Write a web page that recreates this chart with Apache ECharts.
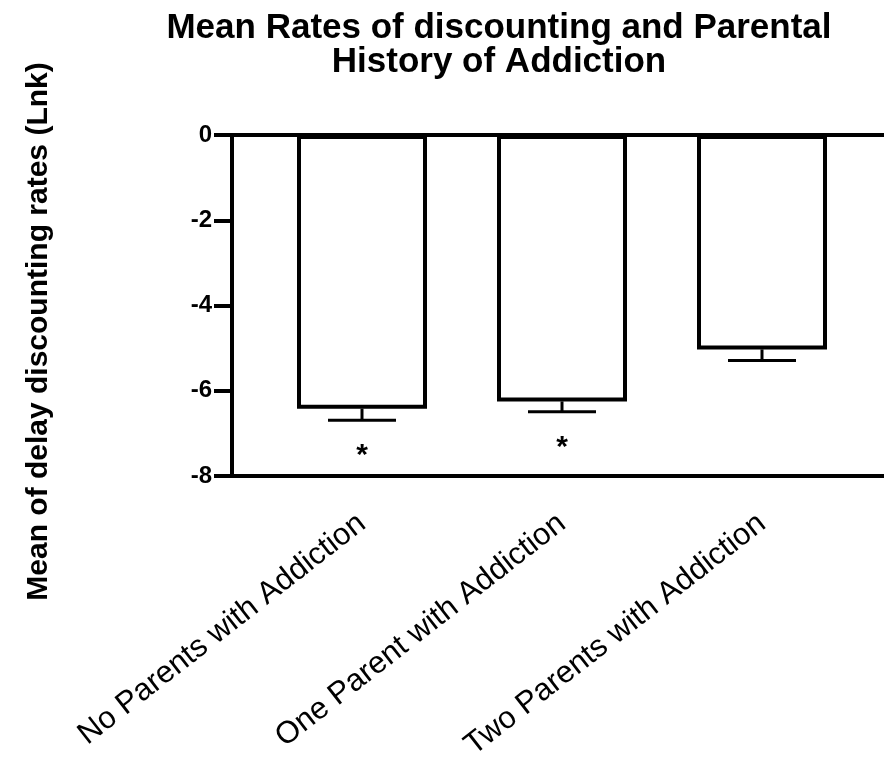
<!DOCTYPE html>
<html>
<head>
<meta charset="utf-8">
<script src="https://cdn.jsdelivr.net/npm/echarts@6/dist/echarts.min.js"></script>
<style>
  html, body { margin: 0; padding: 0; background: #fff; }
  #chart { width: 884px; height: 767px; }
</style>
</head>
<body>
<div id="chart"></div>
<script>
// data
const categories = ['No Parents with Addiction', 'One Parent with Addiction', 'Two Parents with Addiction'];
const meanLnk = [-6.42, -6.25, -5.03];
const semLnk = [0.27, 0.24, 0.26];
const sigMarks = ['*', '*', ''];
const yMin = -8;
const yMax = 0;
const yStep = 2;

const FONT = 'Liberation Sans, Arial, Helvetica, sans-serif';
const chart = echarts.init(document.getElementById('chart'));

const option = {
  backgroundColor: '#fff',
  animation: false,
  title: {
    text: 'Mean Rates of discounting and Parental\nHistory of Addiction',
    left: 494,
    top: 6,
    textAlign: 'center',
    textStyle: { fontFamily: FONT, fontSize: 35, fontWeight: 'bold', color: '#000', lineHeight: 34 },
  },
  grid: [
    { left: 262, right: 22, top: 135, bottom: 291 },
    { left: 232, right: 0, top: 135, bottom: 291 },
  ],
  xAxis: [
    {
      type: 'category',
      gridIndex: 0,
      data: categories,
      axisLine: { show: false },
      axisTick: { show: true, alignWithLabel: true, length: 14, lineStyle: { color: '#000', width: 4 } },
      axisLabel: {
        rotate: 38,
        margin: 44,
        interval: 0,
        color: '#000',
        fontFamily: FONT,
        fontSize: 31,
      },
      splitLine: { show: false },
    },
    {
      type: 'value',
      gridIndex: 1,
      min: 0,
      max: 1,
      position: 'bottom',
      axisLine: { show: true, onZero: false, lineStyle: { color: '#000', width: 4 } },
      axisTick: { show: false },
      axisLabel: { show: false },
      splitLine: { show: false },
    },
    {
      type: 'value',
      gridIndex: 1,
      min: 0,
      max: 1,
      position: 'top',
      axisLine: { show: true, onZero: false, lineStyle: { color: '#000', width: 4 } },
      axisTick: { show: false },
      axisLabel: { show: false },
      splitLine: { show: false },
    },
  ],
  yAxis: [
    {
      type: 'value',
      gridIndex: 0,
      min: yMin,
      max: yMax,
      interval: yStep,
      offset: 30,
      name: 'Mean of delay discounting rates (Lnk)',
      nameLocation: 'middle',
      nameGap: 178,
      nameTextStyle: { fontFamily: FONT, fontSize: 30, fontWeight: 'bold', color: '#000', padding: [0, 52, 0, 0] },
      axisLine: { show: true, lineStyle: { color: '#000', width: 4 } },
      axisTick: { show: true, length: 18, lineStyle: { color: '#000', width: 4 } },
      axisLabel: { color: '#000', fontFamily: FONT, fontSize: 24, fontWeight: 'bold', margin: 20 },
      splitLine: { show: false },
    },
    {
      type: 'value',
      gridIndex: 1,
      min: yMin,
      max: yMax,
      show: false,
    },
  ],
  series: [
    {
      type: 'bar',
      xAxisIndex: 0,
      yAxisIndex: 0,
      data: meanLnk,
      barWidth: '65%',
      itemStyle: { color: '#fff', borderColor: '#000', borderWidth: 4 },
    },
    {
      type: 'custom',
      xAxisIndex: 0,
      yAxisIndex: 0,
      data: categories.map((c, i) => [i, meanLnk[i], semLnk[i]]),
      encode: { x: 0, y: 1 },
      z: 3,
      renderItem: (params, api) => {
        const i = api.value(0);
        const m = api.value(1);
        const e = api.value(2);
        const top = api.coord([i, m]);
        const bot = api.coord([i, m - e]);
        const half = 34;
        const children = [
          { type: 'line', shape: { x1: top[0], y1: top[1], x2: bot[0], y2: bot[1] }, style: { stroke: '#000', lineWidth: 3 } },
          { type: 'line', shape: { x1: bot[0] - half, y1: bot[1], x2: bot[0] + half, y2: bot[1] }, style: { stroke: '#000', lineWidth: 3 } },
        ];
        const mark = sigMarks[i];
        if (mark) {
          children.push({
            type: 'text',
            style: { text: mark, x: bot[0], y: bot[1] + 36, align: 'center', verticalAlign: 'middle', font: 'bold 30px ' + FONT, fill: '#000' },
          });
        }
        return { type: 'group', children };
      },
    },
  ],
};

chart.setOption(option);
</script>
</body>
</html>
